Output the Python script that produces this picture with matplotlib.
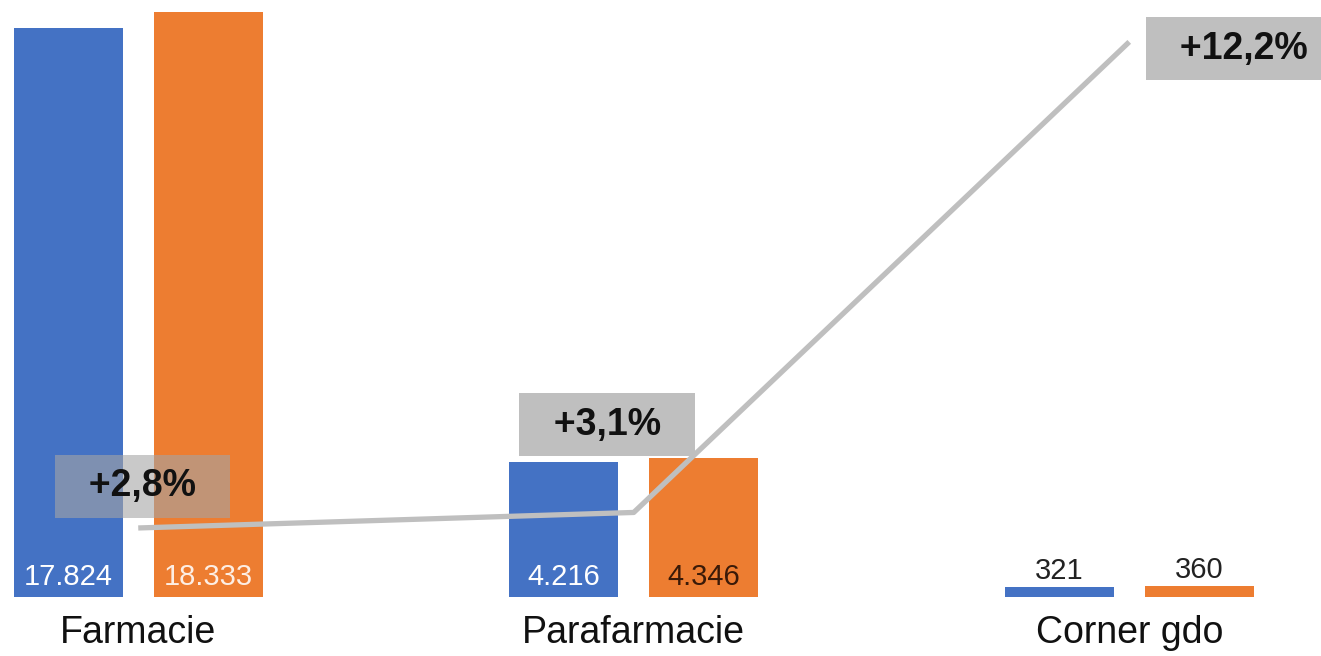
import matplotlib.pyplot as plt
import numpy as np

# data
categories = ["Farmacie", "Parafarmacie", "Corner gdo"]
values_prev = [17824, 4216, 321]
values_curr = [18333, 4346, 360]
labels_prev = ["17.824", "4.216", "321"]
labels_curr = ["18.333", "4.346", "360"]
growth = [2.8, 3.1, 12.2]
growth_labels = ["+2,8%", "+3,1%", "+12,2%"]

blue = "#4472C4"
orange = "#ED7D31"
grey = "#BFBFBF"

plt.rcParams['font.family'] = ['Liberation Sans', 'DejaVu Sans']

fig = plt.figure(figsize=(13.21, 6.56), dpi=100)
ax = fig.add_axes([0, 59 / 656, 1, 597 / 656])
x = np.arange(len(categories))
w = 0.22
off = 0.141

ax.bar(x - off, values_prev, w, color=blue, zorder=2)
ax.bar(x + off, values_curr, w, color=orange, zorder=2)
ax.set_xlim(-0.279, 2.387)
ax.set_ylim(0, 18709)
ax.set_xticks(x)
ax.set_xticklabels(categories, fontsize=27, color="#111111")
ax.tick_params(axis="x", length=0, pad=13)
ax.set_yticks([])
for s in ax.spines.values():
    s.set_visible(False)

# value labels: inside the base for the large bars, above for the small ones
prev_colors = ["white", "white", "#222222"]
curr_colors = ["#FDEEE4", "#3a1a08", "#222222"]
for i in range(len(categories)):
    for xi, v, lab, c in [(x[i] - off, values_prev[i], labels_prev[i], prev_colors[i]),
                          (x[i] + off, values_curr[i], labels_curr[i], curr_colors[i])]:
        if v > 2000:
            ax.annotate(lab, (xi, 0), xytext=(0, 4), textcoords="offset points",
                        ha="center", va="bottom", fontsize=21, color=c, zorder=3)
        else:
            ax.annotate(lab, (xi, v), xytext=(0, 1), textcoords="offset points",
                        ha="center", va="bottom", fontsize=21, color=c, zorder=3)

ax2 = ax.twinx()
ax2.set_ylim(1.465, 13.01)
ax2.set_yticks([])
for s in ax2.spines.values():
    s.set_visible(False)
ax2.plot(x, growth, color=grey, lw=3.8, solid_capstyle="butt", zorder=2)

# growth labels in grey boxes (last one sits against the right edge)
texts = ["  " + growth_labels[0] + "  ", "  " + growth_labels[1] + "  ", "  " + growth_labels[2]]
offsets = [(3, 30), (-19, 63), (75, -5)]
box_styles = [dict(facecolor="#A5A5A5", alpha=0.6), dict(facecolor=grey), dict(facecolor=grey)]
for i in range(len(categories)):
    bs = dict(boxstyle="square,pad=0.36", edgecolor="none")
    bs.update(box_styles[i])
    ax2.annotate(texts[i], (x[i], growth[i]), xytext=offsets[i],
                 textcoords="offset points", ha="center", va="center",
                 fontsize=27, fontweight="bold", color="#111111", bbox=bs, zorder=4)

fig.savefig("out.png", dpi=100)
